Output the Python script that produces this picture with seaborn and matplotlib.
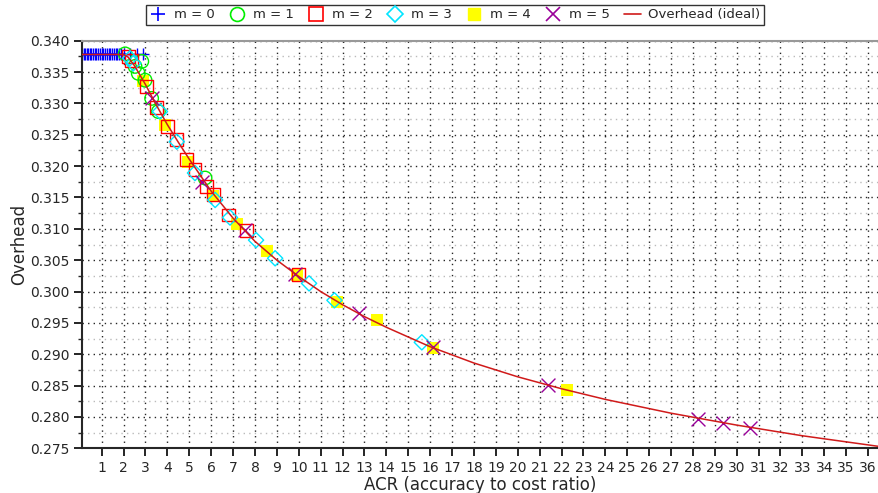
import numpy as np
import pandas as pd
import matplotlib
matplotlib.use("Agg")
import matplotlib.pyplot as plt
from matplotlib.lines import Line2D
from matplotlib.ticker import MultipleLocator, FormatStrFormatter
import seaborn as sns

# ---- data ----
m0_x = [0.1, 0.17, 0.24, 0.31, 0.38, 0.45, 0.52, 0.6, 0.68, 0.76, 0.84, 0.92, 1.0, 1.08,
        1.16, 1.24, 1.32, 1.4, 1.48, 1.56, 1.64, 1.72, 1.8, 1.9, 2.0, 2.3, 2.6, 2.9]
m0_y = [0.3378] * len(m0_x)

m1_x = [2.07, 2.52, 2.67, 2.83, 2.98, 3.28, 3.59, 5.72]
m1_y = [0.3379, 0.3359, 0.3348, 0.3367, 0.3337, 0.3308, 0.3287, 0.3181]

m2_x = [2.22, 2.37, 3.06, 3.51, 4.0, 4.43, 4.88, 5.26, 5.8, 6.1, 6.79, 7.6, 10.0]
m2_y = [0.3375, 0.3369, 0.3327, 0.3293, 0.3263, 0.3242, 0.3210, 0.3195, 0.3167, 0.3155,
        0.3122, 0.3097, 0.3027]

m3_x = [2.29, 2.44, 3.66, 4.43, 5.26, 6.18, 6.86, 8.05, 8.92, 10.47, 11.63, 15.62]
m3_y = [0.3372, 0.3364, 0.3287, 0.3239, 0.3189, 0.3146, 0.3118, 0.3082, 0.3053, 0.3013,
        0.2986, 0.2919]

m4_x = [2.9, 3.89, 4.93, 6.1, 7.2, 8.54, 9.9, 11.76, 13.59, 16.15, 22.25]
m4_y = [0.3335, 0.3266, 0.3207, 0.3153, 0.3108, 0.3064, 0.3026, 0.2983, 0.2955, 0.2910,
        0.2843]

m5_x = [3.28, 5.6, 7.55, 9.85, 12.73, 16.12, 21.36, 28.23, 29.37, 30.62]
m5_y = [0.3308, 0.3174, 0.3098, 0.3028, 0.2965, 0.2911, 0.2851, 0.2796, 0.2790, 0.2783]

ideal_x = [0.1, 2.0, 2.2, 2.5, 3.0, 3.5, 4.0, 4.5, 5.0, 6.0, 7.0, 8.0, 9.0, 10.0, 11.0,
           12.0, 13.0, 14.0, 16.0, 18.0, 20.0, 22.0, 24.0, 27.0, 30.0, 33.0, 36.5]
ideal_y = [0.3378, 0.3378, 0.3374, 0.3360, 0.3330, 0.3297, 0.3266, 0.3238, 0.3211, 0.3160,
           0.3117, 0.3080, 0.3050, 0.3024, 0.3000, 0.2979, 0.2960, 0.2943, 0.2912, 0.2886,
           0.2864, 0.2845, 0.2828, 0.2806, 0.2787, 0.2770, 0.2753]

labels = ["m = 0", "m = 1", "m = 2", "m = 3", "m = 4", "m = 5", "Overhead (ideal)"]

# ---- plot ----
sns.set_style("ticks")
plt.rcParams["font.family"] = ["DejaVu Sans"]

fig = plt.figure(figsize=(8.79, 4.93), dpi=100)
ax = fig.add_axes([82 / 879, 1 - 448.3 / 493, 1 - 82 / 879, (448.3 - 40.7) / 493])

line_col = "#d01a1a"
sns.lineplot(x=ideal_x, y=ideal_y, ax=ax, color=line_col, linewidth=1.1, sort=False,
             legend=False, zorder=3)

sns.scatterplot(x=m0_x, y=m0_y, ax=ax, marker="+", color="#0000ff", s=70, linewidth=1.0,
                legend=False, zorder=2)
sns.scatterplot(x=m1_x, y=m1_y, ax=ax, marker="o", facecolors="none", edgecolor="#00ee00",
                s=95, linewidth=1.0, legend=False, zorder=2)
sns.scatterplot(x=m2_x, y=m2_y, ax=ax, marker="s", facecolors="none", edgecolor="#ff0000",
                s=85, linewidth=1.0, legend=False, zorder=2)
sns.scatterplot(x=m3_x, y=m3_y, ax=ax, marker="D", facecolors="none", edgecolor="#00e5ff",
                s=60, linewidth=1.0, legend=False, zorder=2)
sns.scatterplot(x=m4_x, y=m4_y, ax=ax, marker="s", color="#ffff00", edgecolor="none",
                s=75, linewidth=0, legend=False, zorder=1)
sns.scatterplot(x=m5_x, y=m5_y, ax=ax, marker="x", color="#990099", s=100, linewidth=1.0,
                legend=False, zorder=2)

ax.set_xlim(0.1, 36.5)
ax.set_ylim(0.275, 0.340)
ax.xaxis.set_major_locator(MultipleLocator(1))
ax.yaxis.set_major_locator(MultipleLocator(0.005))
ax.yaxis.set_minor_locator(MultipleLocator(0.0025))
ax.yaxis.set_major_formatter(FormatStrFormatter("%.3f"))

ax.grid(True, which="major", color="black", linestyle=(0, (1, 3)), linewidth=1.0, alpha=0.85)
ax.grid(True, which="minor", axis="y", color="#bbbbbb", linestyle=(0, (1, 3)), linewidth=1.0)
ax.set_axisbelow(True)

ax.tick_params(axis="both", which="major", direction="out", length=6, width=1.2,
               labelsize=10, color="black", pad=3)
ax.tick_params(axis="y", which="minor", direction="out", length=3, width=1.0)
ax.spines["right"].set_visible(False)
ax.spines["top"].set_color("#999999")
ax.spines["top"].set_linewidth(1.5)
ax.spines["left"].set_linewidth(1.5)
ax.spines["bottom"].set_linewidth(1.5)

ax.set_xlabel("ACR (accuracy to cost ratio)", fontsize=12, labelpad=1)
ax.set_ylabel("Overhead", fontsize=12, labelpad=1)

handles = [
    Line2D([], [], linestyle="none", marker="+", color="#0000ff", markersize=10, mew=1.2),
    Line2D([], [], linestyle="none", marker="o", mfc="none", mec="#00ee00", markersize=10, mew=1.2),
    Line2D([], [], linestyle="none", marker="s", mfc="none", mec="#ff0000", markersize=10, mew=1.2),
    Line2D([], [], linestyle="none", marker="D", mfc="none", mec="#00e5ff", markersize=8, mew=1.2),
    Line2D([], [], linestyle="none", marker="s", mfc="#ffff00", mec="#ffff00", markersize=8),
    Line2D([], [], linestyle="none", marker="x", color="#990099", markersize=10, mew=1.2),
    Line2D([], [], color=line_col, linewidth=1.2),
]
leg = fig.legend(handles, labels, loc="upper center", bbox_to_anchor=(455 / 879, 1 - 5 / 493),
                 ncol=7, fontsize=9.5, frameon=True, fancybox=False, edgecolor="black",
                 handlelength=1.3, handletextpad=0.55, columnspacing=1.05, borderpad=0.25,
                 borderaxespad=0)
leg.get_frame().set_linewidth(1.0)

fig.savefig("out.png", dpi=100)
